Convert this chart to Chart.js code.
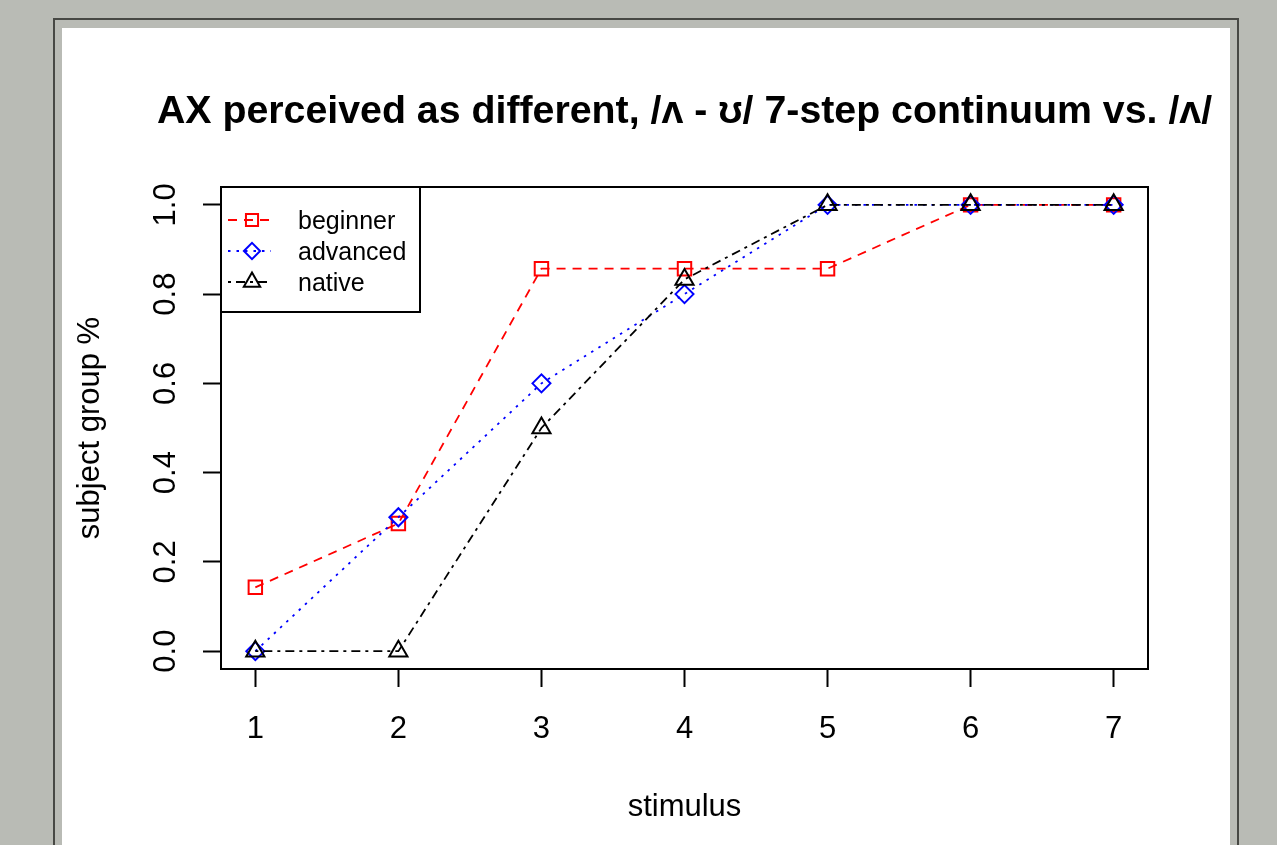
<!DOCTYPE html>
<html>
<head>
<meta charset="utf-8">
<script src="https://cdn.jsdelivr.net/npm/chart.js@4.4.1/dist/chart.umd.min.js"></script>
<style>
  html, body { margin: 0; padding: 0; background: #b9bbb5; width: 1277px; height: 845px; overflow: hidden; }
  #frame { position: absolute; left: 53px; top: 18px; width: 1182px; height: 900px;
           border: 2px solid #474844; border-bottom: none; background: #b9bbb5; }
  #wrap { position: absolute; left: 62px; top: 28px; width: 1168px; height: 817px; background: #ffffff; }
  canvas { display: block; }
</style>
</head>
<body>
<div id="frame"></div>
<div id="wrap"><canvas id="c" width="1168" height="817"></canvas></div>
<script>
const titleText = "AX perceived as different, /\u028C - \u028A/ 7-step continuum vs. /\u028C/";
const xAxisTitle = "stimulus";
const yAxisTitle = "subject group %";
const stimuli = [1, 2, 3, 4, 5, 6, 7];
const xTickLabels = ["1", "2", "3", "4", "5", "6", "7"];
const yTicks = [0, 0.2, 0.4, 0.6, 0.8, 1.0];
const yTickLabels = ["0.0", "0.2", "0.4", "0.6", "0.8", "1.0"];
const seriesNames = ["beginner", "advanced", "native"];
const beginner = [0.143, 0.286, 0.857, 0.857, 0.857, 1.0, 1.0];
const advanced = [0.0, 0.3, 0.6, 0.8, 1.0, 1.0, 1.0];
const native = [0.0, 0.0, 0.5, 0.833, 1.0, 1.0, 1.0];

const FONT = "'Liberation Sans', Arial, Helvetica, sans-serif";

function pts(arr) { return stimuli.map((s, i) => ({ x: s, y: arr[i] })); }

const styles = [
  { color: "#ff0000", dash: [9, 7], point: "rect", radius: 9.5, order: 2 },
  { color: "#0000ff", dash: [2.5, 6], point: "rectRot", radius: 9, order: 1 },
  { color: "#000000", dash: [3, 5, 9, 5], point: "triangle", radius: 10.5, order: 0 }
];
const values = [beginner, advanced, native];

const datasets = seriesNames.map((name, i) => ({
  label: name,
  data: pts(values[i]),
  borderColor: styles[i].color,
  borderWidth: 1.8,
  borderDash: styles[i].dash,
  fill: false,
  tension: 0,
  pointStyle: styles[i].point,
  pointRadius: styles[i].radius,
  pointBorderWidth: 2,
  pointBorderColor: styles[i].color,
  pointBackgroundColor: "rgba(0,0,0,0)",
  order: styles[i].order,
  clip: false
}));

const decor = {
  id: "decor",
  afterDraw(chart) {
    const ctx = chart.ctx;
    const ca = chart.chartArea;
    const ys = chart.scales.y;
    ctx.save();
    // title
    ctx.fillStyle = "#000";
    ctx.font = "bold 39.3px " + FONT;
    ctx.textAlign = "center";
    ctx.textBaseline = "alphabetic";
    ctx.fillText(titleText, (ca.left + ca.right) / 2, 95);
    // y tick labels (rotated, parallel to axis)
    ctx.font = "31px " + FONT;
    yTicks.forEach((v, i) => {
      const py = ys.getPixelForValue(v);
      ctx.save();
      ctx.translate(113, py);
      ctx.rotate(-Math.PI / 2);
      ctx.textAlign = "center";
      ctx.textBaseline = "alphabetic";
      ctx.fillText(yTickLabels[i], 0, 0);
      ctx.restore();
    });
    // box
    ctx.strokeStyle = "#000";
    ctx.lineWidth = 2;
    ctx.setLineDash([]);
    ctx.strokeRect(ca.left, ca.top, ca.right - ca.left, ca.bottom - ca.top);
    // legend
    const lx = ca.left, ly = ca.top, lw = 199, lh = 125;
    ctx.fillStyle = "#fff";
    ctx.fillRect(lx, ly, lw, lh);
    ctx.strokeRect(lx, ly, lw, lh);
    chart.data.datasets.forEach((ds, i) => {
      const rowY = ly + 33 + i * 31;
      ctx.save();
      ctx.strokeStyle = ds.borderColor;
      ctx.lineWidth = ds.borderWidth;
      ctx.setLineDash(ds.borderDash);
      ctx.beginPath();
      ctx.moveTo(lx + 7, rowY);
      ctx.lineTo(lx + 50, rowY);
      ctx.stroke();
      ctx.setLineDash([]);
      ctx.strokeStyle = ds.pointBorderColor;
      ctx.fillStyle = "rgba(0,0,0,0)";
      ctx.lineWidth = ds.pointBorderWidth;
      Chart.helpers.drawPoint(ctx, { pointStyle: ds.pointStyle, radius: ds.pointRadius * 0.9, rotation: 0, borderWidth: ds.pointBorderWidth }, lx + 31, rowY);
      ctx.restore();
      ctx.fillStyle = "#000";
      ctx.font = "25px " + FONT;
      ctx.textAlign = "left";
      ctx.textBaseline = "middle";
      ctx.fillText(ds.label, lx + 77, rowY + 2);
    });
    ctx.restore();
  }
};

new Chart(document.getElementById("c"), {
  type: "line",
  data: { datasets },
  plugins: [decor],
  options: {
    responsive: false,
    devicePixelRatio: 1,
    animation: false,
    events: [],
    layout: { padding: { left: 0, top: 159, right: 82, bottom: 0 } },
    plugins: { legend: { display: false }, title: { display: false }, tooltip: { enabled: false } },
    scales: {
      x: {
        type: "linear",
        min: 0.76,
        max: 7.24,
        afterBuildTicks(scale) { scale.ticks = stimuli.map(v => ({ value: v })); },
        afterFit(scale) { scale.height = 176; },
        border: { display: false },
        grid: { drawOnChartArea: false, drawTicks: true, tickLength: 18, tickWidth: 2, tickColor: "#000" },
        ticks: {
          color: "#000",
          font: { family: FONT, size: 31, lineHeight: 1.2 },
          padding: 24,
          maxRotation: 0,
          autoSkip: false,
          callback(v) { const i = stimuli.indexOf(v); return i >= 0 ? xTickLabels[i] : ""; }
        },
        title: { display: true, text: xAxisTitle, color: "#000", font: { family: FONT, size: 31, lineHeight: 1.2 }, padding: { top: 0, bottom: 19 } }
      },
      y: {
        type: "linear",
        min: -0.04,
        max: 1.04,
        afterBuildTicks(scale) { scale.ticks = yTicks.map(v => ({ value: v })); },
        afterFit(scale) { scale.width = 159; },
        border: { display: false },
        grid: { drawOnChartArea: false, drawTicks: true, tickLength: 18, tickWidth: 2, tickColor: "#000" },
        ticks: { display: false },
        title: { display: true, text: yAxisTitle, color: "#000", font: { family: FONT, size: 31, lineHeight: 1.2 }, padding: { top: 10, bottom: 0 } }
      }
    }
  }
});
</script>
</body>
</html>
